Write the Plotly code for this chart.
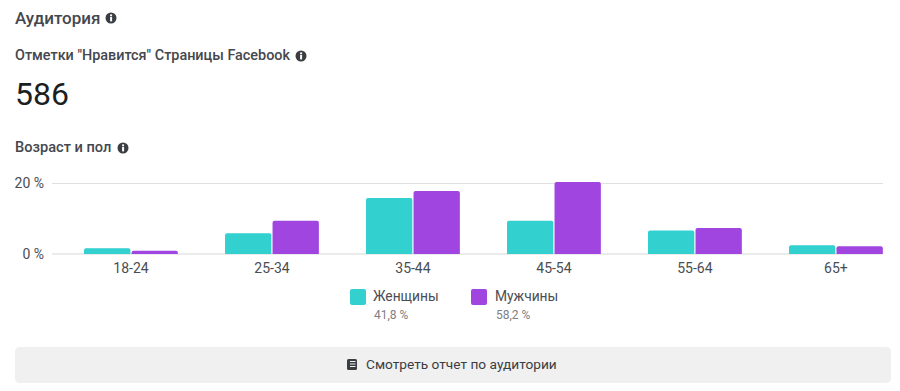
import plotly.graph_objects as go

categories = ["18-24", "25-34", "35-44", "45-54", "55-64", "65+"]
women = [1.6, 5.9, 15.9, 9.4, 6.7, 2.5]
men = [0.9, 9.4, 17.9, 20.4, 7.4, 2.2]
series_names = ["Женщины", "Мужчины"]
series_shares = ["41,8 %", "58,2 %"]
y_ticks = [0, 20]
y_labels = ["0 %", "20 %"]

TEAL = "#32d0cf"
PURPLE = "#a045e0"
DARK = "#3a3d42"
W, H = 900, 391
FONT = "Roboto"

L, R, T, B = 52, 883, 180, 254
ML, MR, MT, MB = L, W - R, T, H - B


def to_fx(x):
    return (x - L) / (R - L)


def to_fy(y):
    return (B - y) / (B - T)


annotations = []
shapes = []


def text(x, y, s, size, color="#1c1e21", weight=400, anchor="left"):
    annotations.append(dict(x=to_fx(x), y=to_fy(y), xref="paper", yref="paper", text=s, showarrow=False,
                            xanchor=anchor, yanchor="middle", borderpad=0, borderwidth=0,
                            font=dict(family=FONT, size=size, color=color, weight=weight)))


def box(x0, y0, x1, y1, color):
    shapes.append(dict(type="rect", xref="paper", yref="paper", x0=to_fx(x0), x1=to_fx(x1), y0=to_fy(y1), y1=to_fy(y0),
                       fillcolor=color, line=dict(width=0), layer="above"))


def rounded(x0, y0, x1, y1, r, color):
    a, b, c, d = to_fx(x0), to_fx(x1), to_fy(y0), to_fy(y1)
    rx, ry = r / (R - L), r / (B - T)
    path = (f"M {a + rx} {c} L {b - rx} {c} Q {b} {c} {b} {c - ry} L {b} {d + ry} Q {b} {d} {b - rx} {d} "
            f"L {a + rx} {d} Q {a} {d} {a} {d + ry} L {a} {c - ry} Q {a} {c} {a + rx} {c} Z")
    shapes.append(dict(type="path", xref="paper", yref="paper", path=path, fillcolor=color, line=dict(width=0), layer="below"))


def info(cx, cy):
    r = 5.5
    shapes.append(dict(type="circle", xref="paper", yref="paper", x0=to_fx(cx - r), x1=to_fx(cx + r),
                       y0=to_fy(cy + r), y1=to_fy(cy - r), fillcolor=DARK, line=dict(width=0), layer="above"))
    box(cx - 0.9, cy - 1.2, cx + 1.1, cy + 3.4, "#ffffff")
    box(cx - 0.9, cy - 3.6, cx + 1.1, cy - 1.9, "#ffffff")


text(15, 18, "Аудитория", 17, "#44474d", 500)
info(111, 18)
text(15, 56, 'Отметки "Нравится" Страницы Facebook', 14.4, "#44474d", 500)
info(301, 56)
text(14.5, 94, "586", 32, "#1c1e21", 400)
text(15, 147, "Возраст и пол", 14.6, "#44474d", 500)
info(123, 148)

# Legend
rounded(350, 289, 366, 305, 2, TEAL)
rounded(471, 289, 487, 305, 2, PURPLE)
text(373, 296, series_names[0], 13.8, "#4a4d52")
text(495, 296, series_names[1], 13.8, "#4a4d52")
text(374, 315, series_shares[0], 12, "#7d8086")
text(496, 315, series_shares[1], 12, "#7d8086")

# Button
rounded(15, 347, 891, 383, 5, "#f0f0f0")
text(366, 364, "Смотреть отчет по аудитории", 13.7, "#3a3d42")
rounded(347, 359, 357, 370, 1.5, "#3a3d42")
shapes[-1]["layer"] = "above"
for yy in (361.5, 364, 366.5):
    box(350, yy - 0.5, 355.5, yy + 0.5, "#f0f0f0")

fig = go.Figure()
fig.add_bar(x=categories, y=women, name=series_names[0], marker=dict(color=TEAL, line=dict(width=0)), showlegend=False)
fig.add_bar(x=categories, y=men, name=series_names[1], marker=dict(color=PURPLE, line=dict(width=0)), showlegend=False)

fig.update_layout(
    width=W, height=H, autosize=False,
    margin=dict(l=ML, r=MR, t=MT, b=MB, pad=0),
    paper_bgcolor="#ffffff", plot_bgcolor="#ffffff",
    barmode="group", bargap=0.326, bargroupgap=0.025, barcornerradius=2,
    font=dict(family=FONT, size=14, color="#4a4d52"),
    annotations=annotations, shapes=shapes,
    xaxis=dict(type="category", range=[-0.56, 5.334], categoryorder="array", categoryarray=categories,
               showgrid=False, showline=False, zeroline=False, ticks="", ticklen=0, ticklabelstandoff=4,
               tickfont=dict(family=FONT, size=14, color="#4a4d52"), fixedrange=True),
    yaxis=dict(range=[0, 74 / 70.5 * 20], tickvals=y_ticks, ticktext=y_labels, ticks="", showline=False,
               ticklabelstandoff=7,
               gridcolor="#e0e0e0", gridwidth=1, zeroline=True, zerolinecolor="#ebebeb", zerolinewidth=2,
               tickfont=dict(family=FONT, size=14, color="#4a4d52"), fixedrange=True),
)

fig.write_html("out.html", config={"displayModeBar": False},
               post_script="document.body.style.margin='0';")
